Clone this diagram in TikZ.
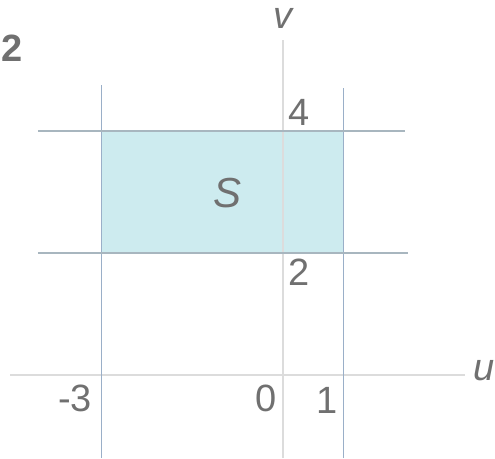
\documentclass[tikz,border=0pt]{standalone}
\usepackage{fontspec}
\setmainfont{Liberation Sans}
\usepackage{xcolor}
\definecolor{Ink}{HTML}{707070}
\definecolor{Axis}{HTML}{DCDCDC}
\definecolor{Bound}{HTML}{9AAFC8}
\definecolor{Level}{HTML}{A8B6BF}
\definecolor{Region}{HTML}{CDEBEF}

\begin{document}
\begin{tikzpicture}[
    x=30.25pt,y=30.5pt,
    font=\fontsize{19}{22}\selectfont,
    axis/.style={draw=Axis,line width=0.6pt},
    bound/.style={draw=Bound,line width=0.8pt},
    level/.style={draw=Level,line width=0.8pt},
    lbl/.style={text=Ink,inner sep=2pt}
]
\useasboundingbox (-4.678,-1.361) rectangle (3.504,6.148);
% region S
\fill[Region] (-3,2) rectangle (1,4);
% axes
\draw[axis] (-4.51,0) -- (3.01,0);
\draw[axis] (0,-1.361) -- (0,5.49);
% bounds u=-3, u=1 and v=2, v=4
\draw[bound] (-3,-1.361) -- (-3,4.75);
\draw[bound] (1,-1.361) -- (1,4.70);
\draw[level] (-4.05,4) -- (2.02,4);
\draw[level] (-4.05,2) -- (2.07,2);
% labels
\node[lbl,anchor=west,inner sep=0.5pt,font=\fontsize{19}{22}\selectfont\bfseries] (fig) at (-4.678,5.35) {2};
\node[lbl,font=\fontsize{19}{22}\selectfont\itshape] (v) at (0,5.84) {v};
\node[lbl,font=\fontsize{19}{22}\selectfont\itshape] (u) at (3.32,0.08) {u};
\node[lbl,anchor=south west] (four) at (0.02,4.02) {4};
\node[lbl,anchor=north west] (two) at (0.02,1.98) {2};
\node[lbl] (m3) at (-3.44,-0.38) {-3};
\node[lbl] (zero) at (-0.28,-0.38) {0};
\node[lbl] (one) at (0.73,-0.41) {1};
\node[lbl,font=\fontsize{21}{24}\selectfont\itshape] (S) at (-0.91,2.98) {S};
\end{tikzpicture}
\end{document}
